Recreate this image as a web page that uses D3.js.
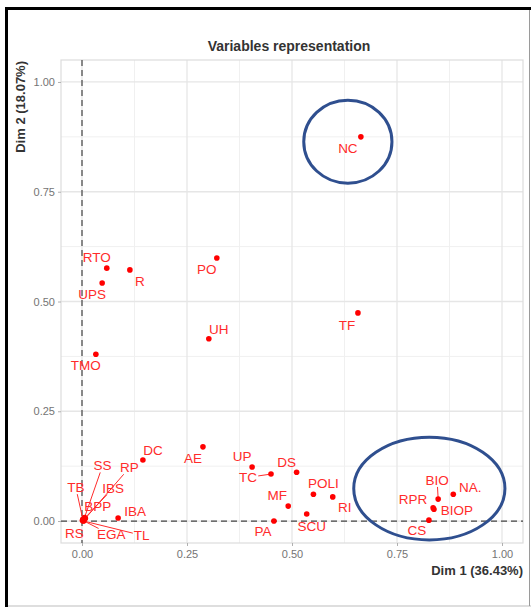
<!DOCTYPE html>
<html>
<head>
<meta charset="utf-8">
<script src="https://cdn.jsdelivr.net/npm/d3@7"></script>
<style>
  html, body { margin: 0; padding: 0; background: #fff; }
  svg { display: block; font-family: "Liberation Sans", Arial, sans-serif; }
</style>
</head>
<body>
<svg id="chart" width="531" height="607"></svg>
<script>
// Variable coordinates on the first two dimensions
const variables = ["NC","TF","PO","UH","RTO","R","UPS","TMO","DC","AE","UP","TC","DS","POLI","RI","MF","SCU","PA",
                   "BIO","NA.","RPR","BIOP","CS","IBA","SS","RP","TB","IBS","BPP","RS","EGA","TL"];
const dim1 = [0.664,0.657,0.321,0.302,0.059,0.114,0.048,0.033,0.145,0.288,0.405,0.450,0.511,0.551,0.597,0.491,0.535,0.457,
              0.848,0.884,0.836,0.838,0.826,0.086,0.006,0.008,0.002,0.005,0.004,0.001,0.003,0.004];
const dim2 = [0.875,0.474,0.599,0.415,0.576,0.572,0.542,0.380,0.139,0.169,0.123,0.107,0.111,0.061,0.055,0.034,0.016,0.000,
              0.050,0.061,0.030,0.027,0.002,0.007,0.008,0.006,0.004,0.005,0.003,0.001,0.001,0.000];
const tickValues = [0, 0.25, 0.5, 0.75, 1.0];
const minorValues = [0.125, 0.375, 0.625, 0.875];

// Repelled label placement (pixel offsets from each point) and which labels get a leader segment
const labelOffset = {
  "NC":[-13,11],"TF":[-11,12],"PO":[-10,11],"UH":[10,-10],"RTO":[-10,-11],"R":[10,11],"UPS":[-10,11],"TMO":[-10,11],
  "DC":[10,-10],"AE":[-10,11],"UP":[-10,-11],"TC":[-23,3],"DS":[-10,-10],"POLI":[10,-11],"RI":[12,10],"MF":[-11,-11],
  "SCU":[5,12],"PA":[-11,10],"BIO":[-1,-19],"NA.":[17,-7],"RPR":[-20,-9],"BIOP":[23,1],"CS":[-12,10],"IBA":[17,-7],
  "SS":[18,-52],"RP":[44,-51],"TB":[-7,-32],"IBS":[29,-31],"BPP":[14,-14],"RS":[-8,13],"EGA":[28,14],"TL":[58,14]
};
const withSegment = new Set(["TC","BIO","SS","RP","TB","IBS","EGA","TL"]);

// Highlighted groups of variables (ellipses in data units)
const groupCx = [0.633, 0.827];
const groupCy = [0.864, 0.074];
const groupRx = [0.105, 0.180];
const groupRy = [0.0945, 0.117];

const svg = d3.select("#chart");
const W = 531, H = 607;

// Outer frame
svg.append("rect").attr("x", 0).attr("y", 0).attr("width", W).attr("height", H).attr("fill", "#fff");
svg.append("line").attr("x1", 8).attr("x2", W).attr("y1", 606).attr("y2", 606).attr("stroke", "#bdbdbd").attr("stroke-width", 1);
svg.append("line").attr("x1", 529.5).attr("x2", 529.5).attr("y1", 9).attr("y2", 606).attr("stroke", "#9a9a9a").attr("stroke-width", 1);
svg.append("line").attr("x1", 5).attr("x2", W).attr("y1", 8.5).attr("y2", 8.5).attr("stroke", "#000").attr("stroke-width", 3);
svg.append("line").attr("x1", 6.5).attr("x2", 6.5).attr("y1", 7).attr("y2", H).attr("stroke", "#000").attr("stroke-width", 3);

const x = d3.scaleLinear().domain([-0.05, 1.05]).range([61, 523]);
const y = d3.scaleLinear().domain([-0.05, 1.05]).range([543, 60]);

const panel = svg.append("g");
// minor grid
minorValues.forEach(v => {
  panel.append("line").attr("x1", x(v)).attr("x2", x(v)).attr("y1", y(1.05)).attr("y2", y(-0.05))
    .attr("stroke", "#f0f0f0").attr("stroke-width", 1);
  panel.append("line").attr("y1", y(v)).attr("y2", y(v)).attr("x1", x(-0.05)).attr("x2", x(1.05))
    .attr("stroke", "#f0f0f0").attr("stroke-width", 1);
});
// major grid
tickValues.forEach(v => {
  panel.append("line").attr("x1", x(v)).attr("x2", x(v)).attr("y1", y(1.05)).attr("y2", y(-0.05))
    .attr("stroke", "#e6e6e6").attr("stroke-width", 1.3);
  panel.append("line").attr("y1", y(v)).attr("y2", y(v)).attr("x1", x(-0.05)).attr("x2", x(1.05))
    .attr("stroke", "#e6e6e6").attr("stroke-width", 1.3);
});
panel.append("rect").attr("x", x(-0.05)).attr("y", y(1.05))
  .attr("width", x(1.05) - x(-0.05)).attr("height", y(-0.05) - y(1.05))
  .attr("fill", "none").attr("stroke", "#dcdcdc").attr("stroke-width", 1.2);

// Axes
const xAxis = d3.axisBottom(x).tickValues(tickValues).tickFormat(d3.format(".2f")).tickSize(3).tickPadding(4);
const yAxis = d3.axisLeft(y).tickValues(tickValues).tickFormat(d3.format(".2f")).tickSize(3).tickPadding(3);
const gx = svg.append("g").attr("transform", `translate(0,${y(-0.05)})`).call(xAxis);
const gy = svg.append("g").attr("transform", `translate(${x(-0.05)},0)`).call(yAxis);
[gx, gy].forEach(g => {
  g.select(".domain").remove();
  g.selectAll(".tick line").attr("stroke", "#b0b0b0");
  g.selectAll(".tick text").attr("fill", "#747474").style("font-size", "11px")
    .style("font-family", "Liberation Sans, Arial, sans-serif");
});

// Reference lines through the origin
svg.append("line").attr("x1", x(0)).attr("x2", x(0)).attr("y1", y(1.05)).attr("y2", y(-0.05))
  .attr("stroke", "#444").attr("stroke-width", 1.2).attr("stroke-dasharray", "6,4");
svg.append("line").attr("y1", y(0)).attr("y2", y(0)).attr("x1", x(-0.05)).attr("x2", x(1.05))
  .attr("stroke", "#444").attr("stroke-width", 1.2).attr("stroke-dasharray", "6,4");

// Titles
svg.append("text").attr("x", (x(-0.05) + x(1.05)) / 2 - 3).attr("y", 51).attr("text-anchor", "middle")
  .attr("fill", "#333").style("font-size", "14px").style("font-weight", "bold").text("Variables representation");
svg.append("text").attr("x", x(1.05)).attr("y", 575).attr("text-anchor", "end")
  .attr("fill", "#333").style("font-size", "13px").style("font-weight", "bold").text("Dim 1 (36.43%)");
svg.append("text").attr("transform", `translate(25,${y(1.05) + 1}) rotate(-90)`).attr("text-anchor", "end")
  .attr("fill", "#333").style("font-size", "13px").style("font-weight", "bold").text("Dim 2 (18.07%)");

// Points and labels
const data = variables.map((name, i) => ({ name, d1: dim1[i], d2: dim2[i] }));
const segLayer = svg.append("g");
const dotLayer = svg.append("g");
const labelLayer = svg.append("g");

dotLayer.selectAll("circle").data(data).join("circle")
  .attr("cx", d => x(d.d1)).attr("cy", d => y(d.d2)).attr("r", 2.8).attr("fill", "#ff0000");

const labels = labelLayer.selectAll("text").data(data).join("text")
  .attr("x", d => x(d.d1) + labelOffset[d.name][0])
  .attr("y", d => y(d.d2) + labelOffset[d.name][1])
  .attr("dy", "0.36em")
  .attr("text-anchor", "middle")
  .attr("fill", "#ff2b2b")
  .style("font-size", "13.5px")
  .text(d => d.name);

// Leader segments run from the point to the edge of the label box
labels.each(function(d) {
  if (!withSegment.has(d.name)) return;
  const b = this.getBBox();
  const px = x(d.d1), py = y(d.d2);
  const cx = b.x + b.width / 2, cy = b.y + b.height / 2;
  const hw = b.width / 2 + 1, hh = b.height / 2 - 1;
  const dx = px - cx, dy = py - cy;
  const t = Math.min(Math.abs(dx) > 0 ? hw / Math.abs(dx) : Infinity, Math.abs(dy) > 0 ? hh / Math.abs(dy) : Infinity);
  const ex = cx + dx * Math.min(t, 1), ey = cy + dy * Math.min(t, 1);
  segLayer.append("line").attr("x1", px).attr("y1", py).attr("x2", ex).attr("y2", ey)
    .attr("stroke", "#ff2b2b").attr("stroke-width", 1);
});

// Group highlight ellipses
groupCx.forEach((cx, i) => {
  svg.append("ellipse")
    .attr("cx", x(cx)).attr("cy", y(groupCy[i]))
    .attr("rx", x(groupRx[i]) - x(0)).attr("ry", y(0) - y(groupRy[i]))
    .attr("fill", "none").attr("stroke", "#2f4f8f").attr("stroke-width", 3);
});
</script>
</body>
</html>
